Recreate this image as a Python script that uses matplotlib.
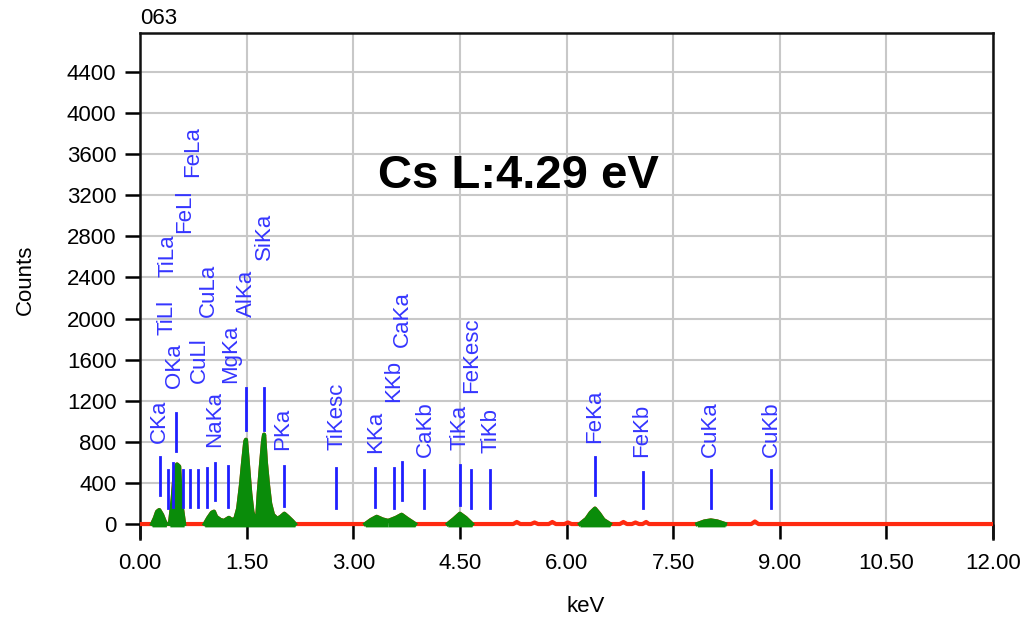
import numpy as np
import matplotlib
matplotlib.use('Agg')
import matplotlib.pyplot as plt

plt.rcParams['font.family'] = ['Liberation Sans', 'DejaVu Sans']

# spectrum (keV, counts)
spec_kev = [0.00, 0.17, 0.21, 0.24, 0.27, 0.31, 0.35, 0.37,
            0.42, 0.44, 0.46, 0.49, 0.52, 0.55, 0.56, 0.59, 0.62,
            0.91, 0.96, 1.01, 1.04, 1.07, 1.13, 1.18, 1.25, 1.29, 1.34,
            1.38, 1.42, 1.45, 1.48, 1.49, 1.52, 1.55, 1.58, 1.60, 1.65,
            1.67, 1.70, 1.73, 1.745, 1.77, 1.80, 1.83, 1.87, 1.93, 1.98,
            2.03, 2.08, 2.14, 2.18,
            3.17, 3.25, 3.33, 3.41, 3.49, 3.60, 3.68, 3.76, 3.87,
            4.33, 4.42, 4.50, 4.58, 4.67,
            5.25, 5.30, 5.35, 5.50, 5.55, 5.60, 5.75, 5.80, 5.85, 5.97, 6.02, 6.07,
            6.19, 6.28, 6.34, 6.40, 6.46, 6.52, 6.61,
            6.75, 6.80, 6.85, 6.92, 6.97, 7.02, 7.07, 7.12, 7.16,
            7.84, 7.94, 8.03, 8.12, 8.23,
            8.60, 8.65, 8.70, 12.00]
spec_counts = [0, 0, 60, 120, 136, 90, 20, 0,
               0, 120, 250, 520, 580, 560, 420, 150, 0,
               0, 60, 110, 120, 70, 40, 30, 60, 40, 50,
               150, 380, 600, 800, 820, 560, 300, 120, 70, 80,
               300, 560, 800, 870, 600, 380, 200, 90, 50, 70,
               100, 70, 30, 0,
               0, 40, 70, 45, 30, 60, 90, 50, 0,
               0, 50, 100, 60, 0,
               0, 20, 0, 0, 15, 0, 0, 20, 0, 0, 15, 0,
               0, 50, 110, 150, 100, 40, 0,
               0, 20, 0, 0, 15, 0, 0, 20, 0,
               0, 25, 35, 25, 0,
               0, 25, 0, 0]

# green regions of interest (keV)
roi_lo = [0.17, 0.42, 0.91, 3.17, 3.49, 4.33, 6.19, 7.84]
roi_hi = [0.37, 0.62, 2.18, 3.49, 3.87, 4.67, 6.61, 8.23]

# element markers
mark_names = ['CKa', 'TiLl', 'TiLa', 'OKa', 'FeLl', 'FeLa', 'CuLl', 'CuLa',
              'NaKa', 'MgKa', 'AlKa', 'SiKa', 'PKa', 'TiKesc', 'KKa', 'KKb',
              'CaKa', 'CaKb', 'TiKa', 'FeKesc', 'TiKb', 'FeKa', 'FeKb',
              'CuKa', 'CuKb']
mark_kev = [0.277, 0.39, 0.465, 0.505, 0.61, 0.70, 0.82, 0.94,
            1.055, 1.24, 1.49, 1.745, 2.02, 2.753, 3.30, 3.57,
            3.68, 4.00, 4.50, 4.66, 4.93, 6.40, 7.07, 8.03, 8.88]
mark_bot = [282, 156, 165, 710, 165, 165, 165, 165,
            233, 165, 914, 914, 175, 156, 165, 156,
            233, 156, 185, 156, 156, 282, 156, 156, 156]
mark_top = [652, 525, 593, 1080, 525, 525, 525, 545,
            593, 564, 1323, 1323, 564, 545, 545, 545,
            603, 525, 574, 525, 525, 652, 506, 525, 525]
label_kev = [0.267, 0.38, 0.40, 0.49, 0.63, 0.74, 0.83, 0.96,
             1.055, 1.28, 1.49, 1.745, 2.01, 2.77, 3.31, 3.57,
             3.69, 4.01, 4.50, 4.67, 4.94, 6.40, 7.06, 8.03, 8.88]
label_y = [788, 1838, 2403, 1323, 2831, 3375, 1372, 2014,
           749, 1372, 2014, 2568, 720, 720, 691, 1187,
           1722, 652, 720, 1274, 691, 788, 652, 652, 652]

xticks = [0, 1.5, 3, 4.5, 6, 7.5, 9, 10.5, 12]
yticks = list(range(0, 4401, 400))

fig = plt.figure(figsize=(10.23, 6.2), dpi=100)
ax = fig.add_axes([0.1369, 0.1306, 0.8338, 0.8162])

ax.set_xlim(0, 12)
ax.set_ylim(-146, 4780)
ax.set_xticks(xticks)
ax.set_xticklabels(['%.2f' % t for t in xticks])
ax.set_yticks(yticks)
ax.grid(True, color='#c8c8c8', lw=1.5)
ax.set_axisbelow(True)

for s in ['left', 'top', 'right']:
    ax.spines[s].set_linewidth(1.8)
    ax.spines[s].set_color('#111111')
ax.spines['bottom'].set_visible(False)
ax.tick_params(axis='y', direction='out', length=11, width=1.8, pad=6, labelsize=16)
ax.tick_params(axis='x', direction='in', length=11, width=1.8, pad=10, labelsize=16)

sk = np.array(spec_kev)
sc = np.array(spec_counts)
ax.plot(sk, sc, color='#ff2a10', lw=3, zorder=3)
for lo, hi in zip(roi_lo, roi_hi):
    m = (sk >= lo) & (sk <= hi)
    ax.fill_between(sk[m], -28, sc[m], color='#0a8c0a', lw=0, zorder=4)
    ax.plot(sk[m], sc[m], color='#0a8c0a', lw=3, zorder=4)

for name, e, b, t, lx, ly in zip(mark_names, mark_kev, mark_bot, mark_top, label_kev, label_y):
    ax.plot([e, e], [b, t], color='#1f1fff', lw=2, zorder=5)
    ax.text(lx, ly, name, rotation=90, ha='center', va='bottom',
            color='#3535ff', fontsize=16, zorder=6)

ax.text(0, 1.008, '063', transform=ax.transAxes, ha='left', va='bottom', fontsize=16)
ax.text(3.35, 3272, 'Cs L:4.29 eV', fontsize=34, fontweight='bold', ha='left', va='baseline')

fig.text(586 / 1023, 1 - 607 / 620, 'keV', ha='center', va='center', fontsize=16)
fig.text(25 / 1023, 1 - 280 / 620, 'Counts', rotation=90, ha='center', va='center', fontsize=16)

fig.savefig('out.png', dpi=100)
